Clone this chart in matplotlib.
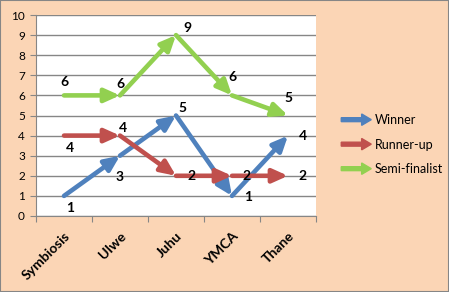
import matplotlib
matplotlib.use("Agg")
import matplotlib.pyplot as plt
import matplotlib.patches as mpatches
from matplotlib.legend_handler import HandlerPatch

plt.rcParams['font.family'] = ['Lato', 'DejaVu Sans']

venues = ["Symbiosis", "Ulwe", "Juhu", "YMCA", "Thane"]
winner = [1, 3, 5, 1, 4]
runner_up = [4, 4, 2, 2, 2]
semi_finalist = [6, 6, 9, 6, 5]

# label offsets in pixels
winner_off = [(6, -12), (0, -21), (6, 8), (16, -1), (15, 0)]
runner_off = [(6, -12), (3, 8), (16, 0), (15, 0), (15, 0)]
semi_off = [(0, 13), (0, 11), (11, 7), (0, 18), (0, 18)]

series = [
    ("Winner", winner, "#4F81BD", winner_off),
    ("Runner-up", runner_up, "#C0504D", runner_off),
    ("Semi-finalist", semi_finalist, "#92D050", semi_off),
]

bg = "#FBD5B5"
fig = plt.figure(figsize=(4.49, 2.92), dpi=100, facecolor=bg)
fig.patches.append(mpatches.Rectangle((0, 0), 1, 1, transform=fig.transFigure,
                                      fill=False, edgecolor="#868686", lw=1.5))
ax = fig.add_axes([0.0802, 0.2603, 0.6236, 0.6883])
ax.set_facecolor("white")

x = list(range(len(venues)))
for name, vals, col, offs in series:
    for i in range(len(vals) - 1):
        ax.annotate("", xy=(x[i + 1], vals[i + 1]), xytext=(x[i], vals[i]),
                    arrowprops=dict(arrowstyle="-|>,head_length=1.0,head_width=0.45",
                                    color=col, lw=3.3, shrinkA=0, shrinkB=0,
                                    mutation_scale=9, capstyle="round"),
                    zorder=3)
    for i, v in enumerate(vals):
        ax.annotate(str(v), xy=(x[i], v), xytext=offs[i], textcoords="offset pixels",
                    ha="center", va="center", fontsize=10, fontweight="bold", zorder=4)

ax.set_xlim(-0.5, 4.5)
ax.set_ylim(0, 10)
ax.set_yticks(range(0, 11))
ax.yaxis.grid(True, color="#868686", lw=1)
ax.set_axisbelow(True)
ax.set_xticks([i - 0.5 for i in range(len(venues) + 1)], minor=False)
ax.set_xticklabels([])
ax.set_xticks(x, minor=True)
ax.set_xticklabels(venues, minor=True, rotation=45, ha="right", rotation_mode="anchor",
                   fontsize=10, fontweight="bold")
ax.tick_params(axis="x", which="minor", length=0, pad=10)
ax.tick_params(axis="x", which="major", length=4, color="#868686")
ax.tick_params(axis="y", length=4, color="#868686", labelsize=8.5, pad=4)
for s in ["top", "right"]:
    ax.spines[s].set_visible(False)
for s in ["left", "bottom"]:
    ax.spines[s].set_color("#868686")


def make_arrow(legend, orig_handle, xdescent, ydescent, width, height, fontsize):
    return mpatches.FancyArrow(0, height / 2, width, 0, width=height * 0.45,
                               length_includes_head=True, head_width=height * 1.3,
                               head_length=height * 1.1)


handles = [mpatches.Patch(color=c, label=n) for n, _, c, _ in series]
fig.legend(handles=handles, loc="center left", bbox_to_anchor=(0.735, 0.505),
           frameon=False, fontsize=9, handlelength=2.4, handletextpad=0.3,
           labelspacing=1.0,
           handler_map={mpatches.Patch: HandlerPatch(patch_func=make_arrow)})

fig.savefig("out.png", dpi=100, facecolor=bg)
